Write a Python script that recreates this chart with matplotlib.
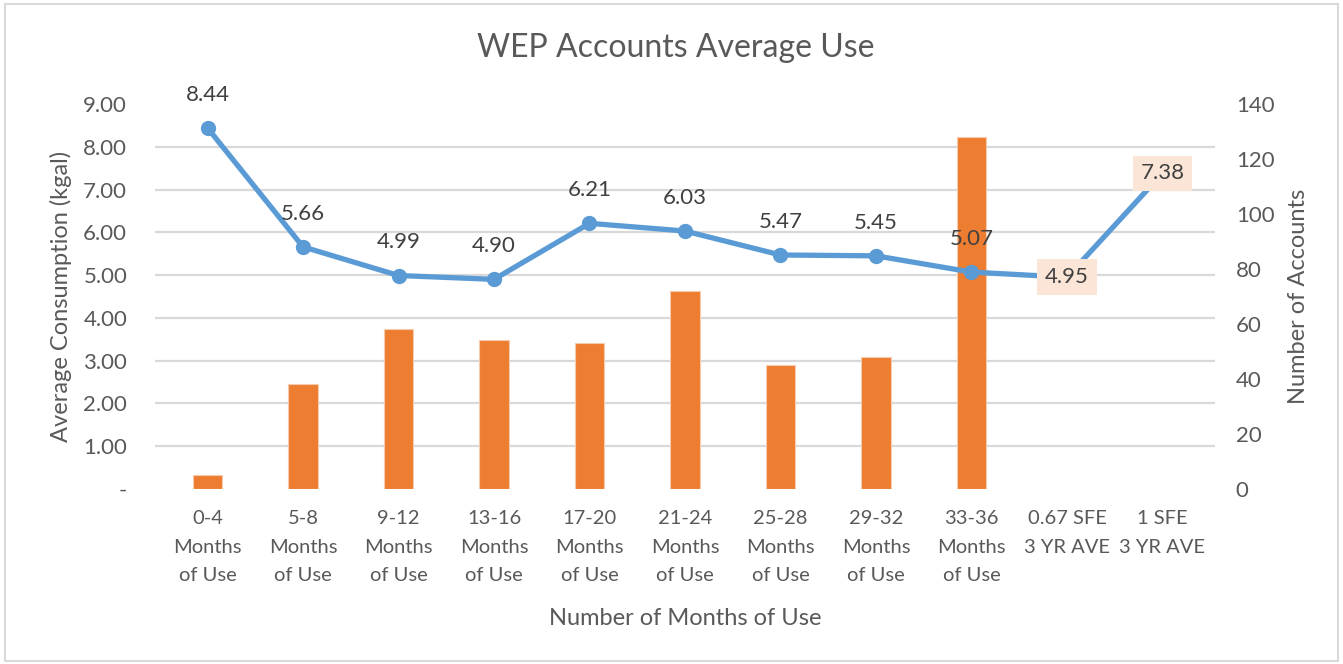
import numpy as np
import matplotlib
matplotlib.use("Agg")
import matplotlib.pyplot as plt
from matplotlib.patches import Rectangle

plt.rcParams["font.family"] = ["Lato", "DejaVu Sans"]

# Chart data
categories = [
    "0-4\nMonths\nof Use", "5-8\nMonths\nof Use", "9-12\nMonths\nof Use",
    "13-16\nMonths\nof Use", "17-20\nMonths\nof Use", "21-24\nMonths\nof Use",
    "25-28\nMonths\nof Use", "29-32\nMonths\nof Use", "33-36\nMonths\nof Use",
    "0.67 SFE\n3 YR AVE", "1 SFE\n3 YR AVE",
]
avg_use = [8.44, 5.66, 4.99, 4.90, 6.21, 6.03, 5.47, 5.45, 5.07, 4.95, 7.38]
accounts = [5, 38, 58, 54, 53, 72, 45, 48, 128, np.nan, np.nan]

left_ticks = np.arange(0, 10, 1)
right_ticks = np.arange(0, 141, 20)

grey = "#595959"
bar_color = "#ED7D31"
line_color = "#5B9BD5"
grid_color = "#D9D9D9"

fig = plt.figure(figsize=(13.43, 6.64), dpi=100)
fig.patches.append(Rectangle((0.004, 0.004), 0.992, 0.99, transform=fig.transFigure,
                             fill=False, edgecolor=grid_color, linewidth=1.5))

ax2 = fig.add_axes([0.1154, 0.2636, 0.7893, 0.5798])   # bars, right axis (background)
ax = ax2.twinx()                                          # line, drawn on top
ax.yaxis.tick_left()
ax.yaxis.set_label_position("left")
ax2.yaxis.tick_right()
ax2.yaxis.set_label_position("right")
ax.set_zorder(ax2.get_zorder() + 1)
ax.patch.set_visible(False)

x = np.arange(len(categories))

# Bars (Number of Accounts)
ax2.bar(x, accounts, width=0.31, color=bar_color, edgecolor="#F8CBAD",
        linewidth=0.8, zorder=3)
ax2.set_ylim(0, 140)
ax2.set_yticks(right_ticks)
ax2.set_yticks(np.linspace(0, 140, len(left_ticks)), minor=True)
ax2.grid(True, which="minor", axis="y", color=grid_color, linewidth=1.6, zorder=0)
ax2.grid(False, which="major")
ax2.tick_params(axis="y", which="both", length=0, labelsize=16, labelcolor=grey, pad=15)
ax2.set_ylabel("Number of Accounts", fontsize=17, color=grey, labelpad=10)

# Line (Average Consumption)
ax.plot(x, avg_use, color=line_color, linewidth=3.8, marker="o", markersize=10,
        solid_capstyle="round", zorder=4)
ax.set_ylim(0, 9)
ax.set_yticks(left_ticks)
ax.set_yticklabels(["-"] + [f"{v:.2f}" for v in left_ticks[1:]])
ax.tick_params(axis="y", length=0, labelsize=16, labelcolor=grey, pad=20)
ax.set_ylabel("Average Consumption (kgal)", fontsize=17, color=grey, labelpad=8)

for i, v in enumerate(avg_use):
    if i >= 9:
        ax.annotate(f"{v:.2f}", (x[i], v), ha="center", va="center", fontsize=16,
                    color="#404040", zorder=6,
                    bbox=dict(boxstyle="square,pad=0.35", facecolor="#FBE5D6",
                              edgecolor="none"))
    else:
        ax.annotate(f"{v:.2f}", (x[i], v), xytext=(0, 24), textcoords="offset points",
                    ha="center", va="center", fontsize=16, color="#404040", zorder=6)

ax2.set_xlim(-0.55, len(categories) - 0.45)
ax2.set_xticks(x)
ax2.set_xticklabels(categories, linespacing=1.84)
ax2.tick_params(axis="x", length=0, labelsize=14.5, labelcolor=grey, pad=15)
ax2.set_xlabel("Number of Months of Use", fontsize=17, color=grey, labelpad=17)

for a in (ax, ax2):
    for s in a.spines.values():
        s.set_visible(False)

fig.text(0.503, 0.927, "WEP Accounts Average Use", ha="center", va="center",
         fontsize=23, color=grey)

fig.savefig("out.png", dpi=100)
